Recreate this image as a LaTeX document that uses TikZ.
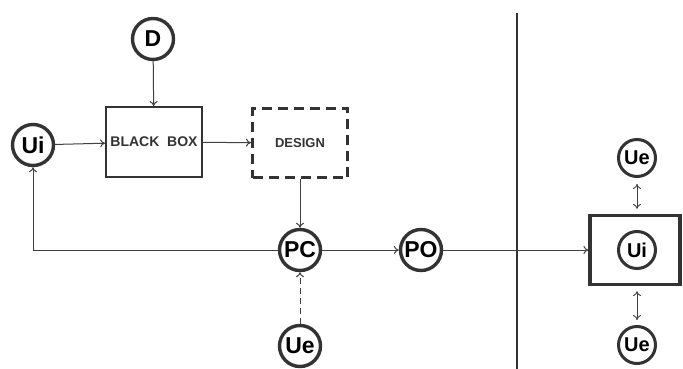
\documentclass[tikz,border=0pt]{standalone}
\usepackage{fontspec}
\setmainfont{Liberation Sans}
\usetikzlibrary{arrows.meta}

\begin{document}
\begin{tikzpicture}[x=1pt, y=-1pt, >={To[length=5pt,width=8pt]},
  agent/.style={circle, draw=black!80, line width=3.4pt, minimum size=41pt, inner sep=0pt,
    font=\fontsize{23}{23}\selectfont\bfseries},
  smallagent/.style={agent, minimum size=37pt, line width=3pt,
    font=\fontsize{20}{20}\selectfont\bfseries},
  flow/.style={->, line width=1pt, black!75},
  boxlabel/.style={font=\fontsize{14}{14}\selectfont\bfseries, text=black!80}]
  \useasboundingbox (0,0) rectangle (683,369);

  % Inputs and the black box
  \node[agent] (d) at (153,39) {D};
  \node[agent] (ui) at (33,145) {Ui};
  \node[boxlabel, draw=black!80, line width=1.8pt, minimum width=96pt, minimum height=70pt,
    inner sep=0pt] (bbox) at (154,142) {BLACK\ \ BOX};

  % Design (dashed, heavy)
  \node[boxlabel, font=\fontsize{13}{13}\selectfont\bfseries, draw=black!80, line width=3.2pt,
    dash pattern=on 10pt off 6pt, minimum width=95pt, minimum height=69pt, inner sep=0pt]
    (design) at (300,143) {DESIGN};

  % Product chain
  \node[agent] (pc) at (300,250) {PC};
  \node[agent] (po) at (421,250) {PO};
  \node[agent] (ue) at (300,346) {Ue};

  % Divider
  \coordinate (top) at (517,13);
  \coordinate (bottom) at (517,369);
  \draw[line width=1.8pt, black!80] (top) -- (bottom);

  % Use environment on the right
  \node[draw=black!80, line width=3.2pt, minimum width=90pt, minimum height=69pt] (rbox) at (635,250) {};
  \node[smallagent] (uin) at (637,250) {Ui};
  \node[smallagent] (uetop) at (637,158) {Ue};
  \node[smallagent] (uebot) at (637,345) {Ue};

  % Connectors
  \draw[flow] (d) -- (bbox);
  \draw[flow] (ui) -- (bbox);
  \draw[flow] (bbox) -- (design);
  \draw[flow] (design) -- (pc);
  \draw[flow] (pc.west) -| (ui.south);
  \draw[flow, dashed, dash pattern=on 6pt off 4pt] (ue) -- (pc);
  \draw[flow] (pc) -- (po);
  \draw[flow] (po) -- (rbox.west);
  \draw[<->, line width=0.9pt, black!75, shorten <=6pt, shorten >=5pt] (uetop) -- (rbox.north -| uetop);
  \draw[<->, line width=0.9pt, black!75, shorten <=5pt, shorten >=5pt] (rbox.south -| uebot) -- (uebot);
\end{tikzpicture}
\end{document}
